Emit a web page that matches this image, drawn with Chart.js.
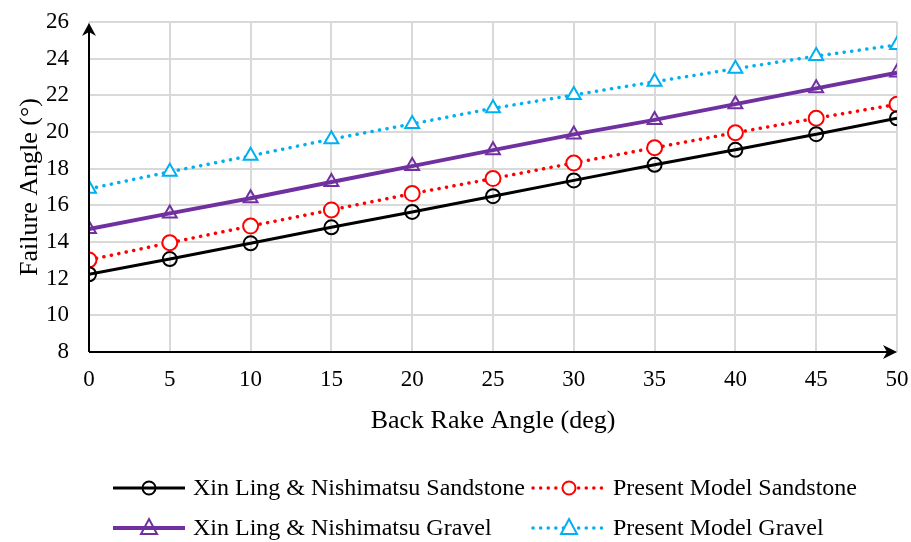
<!DOCTYPE html>
<html>
<head>
<meta charset="utf-8">
<script src="https://cdn.jsdelivr.net/npm/chart.js@4.4.1/dist/chart.umd.min.js"></script>
<style>
  html, body { margin: 0; padding: 0; background: #fff; }
  #wrap { width: 911px; height: 542px; position: relative; }
</style>
</head>
<body>
<div id="wrap"><canvas id="failure"></canvas></div>
<script>
const backRake = [0, 5, 10, 15, 20, 25, 30, 35, 40, 45, 50];

const xinSandstone = [12.24, 13.07, 13.93, 14.80, 15.64, 16.50, 17.36, 18.21, 19.03, 19.88, 20.75];
const modelSandstone = [13.02, 13.96, 14.87, 15.75, 16.64, 17.46, 18.31, 19.14, 19.96, 20.75, 21.51];
const xinGravel = [14.71, 15.56, 16.39, 17.27, 18.14, 19.01, 19.87, 20.66, 21.52, 22.38, 23.24];
const modelGravel = [16.90, 17.83, 18.70, 19.61, 20.44, 21.29, 22.02, 22.74, 23.45, 24.14, 24.75];

const yTicks = [8, 10, 12, 14, 16, 18, 20, 22, 24, 26];

const serif = "'Liberation Serif', 'Times New Roman', serif";

function pts(vals) {
  return vals.map((v, i) => ({ x: backRake[i], y: v }));
}

const series = [
  { label: 'Xin Ling & Nishimatsu Sandstone', data: xinSandstone, color: '#000000', width: 3, dash: [], style: 'circle', fill: 'rgba(0,0,0,0)', radius: 7 },
  { label: 'Present Model Sandstone', data: modelSandstone, color: '#ff0000', width: 3.5, dash: [0.1, 7.5], style: 'circle', fill: '#ffffff', radius: 7.5 },
  { label: 'Xin Ling & Nishimatsu Gravel', data: xinGravel, color: '#7030a0', width: 4, dash: [], style: 'triangle', fill: 'rgba(0,0,0,0)', radius: 8 },
  { label: 'Present Model Gravel', data: modelGravel, color: '#00b0f0', width: 3.5, dash: [0.1, 7.5], style: 'triangle', fill: '#ffffff', radius: 8 },
];

// axis arrows, axis titles and the two-row legend underneath
const decorations = {
  id: 'decorations',
  afterDraw(chart) {
    const c = chart.ctx;
    const a = chart.chartArea;
    c.save();
    c.strokeStyle = '#000';
    c.fillStyle = '#000';
    c.lineWidth = 2;
    c.beginPath();
    c.moveTo(a.left, a.bottom);
    c.lineTo(a.left, a.top + 8);
    c.moveTo(a.left, a.bottom);
    c.lineTo(a.right - 8, a.bottom);
    c.stroke();
    // arrow heads
    c.beginPath();
    c.moveTo(a.left, a.top + 1);
    c.lineTo(a.left + 7, a.top + 14);
    c.lineTo(a.left, a.top + 10);
    c.lineTo(a.left - 7, a.top + 14);
    c.closePath();
    c.fill();
    c.beginPath();
    c.moveTo(a.right, a.bottom);
    c.lineTo(a.right - 14, a.bottom - 7);
    c.lineTo(a.right - 10, a.bottom);
    c.lineTo(a.right - 14, a.bottom + 7);
    c.closePath();
    c.fill();

    // titles
    c.font = '26px ' + serif;
    c.textAlign = 'center';
    c.textBaseline = 'alphabetic';
    c.fillText('Back Rake Angle (deg)', (a.left + a.right) / 2, 428);
    c.save();
    c.translate(37, (a.top + a.bottom) / 2);
    c.rotate(-Math.PI / 2);
    c.fillText('Failure Angle (°)', 0, 0);
    c.restore();

    // legend
    const cols = [113, 533];
    const rows = [488, 528];
    c.font = '24px ' + serif;
    c.textAlign = 'left';
    c.textBaseline = 'middle';
    series.forEach((s, i) => {
      const x0 = cols[i % 2];
      const y = rows[Math.floor(i / 2)];
      c.strokeStyle = s.color;
      c.lineWidth = s.width;
      c.lineCap = s.dash.length ? 'round' : 'butt';
      c.setLineDash(s.dash);
      c.beginPath();
      c.moveTo(x0, y);
      c.lineTo(x0 + 72, y);
      c.stroke();
      c.setLineDash([]);
      c.lineWidth = 2;
      const mx = x0 + 36;
      c.fillStyle = s.fill === '#ffffff' ? '#ffffff' : 'rgba(0,0,0,0)';
      c.beginPath();
      if (s.style === 'circle') {
        c.arc(mx, y, 6.5, 0, Math.PI * 2);
      } else {
        c.moveTo(mx, y - 9);
        c.lineTo(mx + 8, y + 6);
        c.lineTo(mx - 8, y + 6);
        c.closePath();
      }
      c.fill();
      c.stroke();
      c.fillStyle = '#000';
      c.fillText(s.label, x0 + 80, y + 1);
    });
    c.restore();
  }
};

new Chart(document.getElementById('failure'), {
  type: 'line',
  data: {
    datasets: series.map(s => ({
      label: s.label,
      data: pts(s.data),
      borderColor: s.color,
      borderWidth: s.width,
      borderDash: s.dash,
      borderCapStyle: s.dash.length ? 'round' : 'butt',
      pointStyle: s.style,
      pointRadius: s.radius,
      pointBorderWidth: 2,
      pointBorderColor: s.color,
      pointBackgroundColor: s.fill,
      tension: 0,
    })),
  },
  options: {
    responsive: true,
    maintainAspectRatio: false,
    animation: false,
    layout: { padding: { top: 22, right: 14, left: 0, bottom: 100 } },
    plugins: {
      legend: { display: false },
      tooltip: { enabled: false },
    },
    scales: {
      x: {
        type: 'linear',
        min: 0,
        max: 50,
        afterBuildTicks: s => { s.ticks = backRake.map(v => ({ value: v })); },
        grid: { color: '#d9d9d9', lineWidth: 2, drawTicks: false },
        border: { display: false },
        ticks: { color: '#000', font: { family: serif, size: 23 }, padding: 14 },
        afterFit: s => { s.height = 90; s.paddingLeft = 0; s.paddingRight = 0; },
      },
      y: {
        min: 8,
        max: 26,
        afterBuildTicks: s => { s.ticks = yTicks.map(v => ({ value: v })); },
        grid: { color: '#d9d9d9', lineWidth: 2, drawTicks: false },
        border: { display: false },
        ticks: { color: '#000', font: { family: serif, size: 23 }, padding: 20 },
        afterFit: s => { s.width = 89; s.paddingTop = 0; s.paddingBottom = 0; },
      },
    },
  },
  plugins: [decorations],
});
</script>
</body>
</html>
